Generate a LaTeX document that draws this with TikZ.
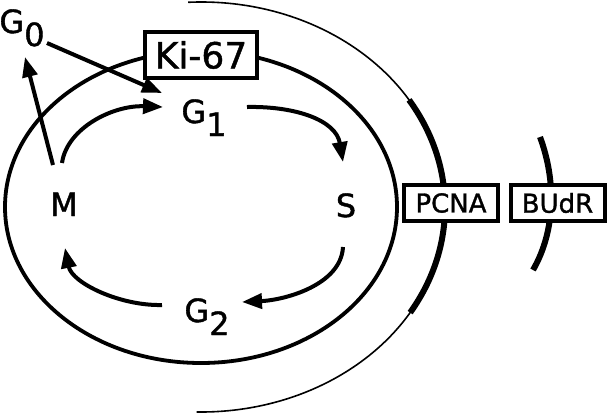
\documentclass[tikz,border=0pt]{standalone}
\usepackage{fontspec}
\setmainfont{DejaVu Sans}[FakeBold=1.2]
\usetikzlibrary{arrows.meta,calc}

\newcommand{\subidx}[1]{\lower6.5pt\hbox{#1}}

\begin{document}
\begin{tikzpicture}[x=0.5pt, y=-0.5pt,
    phase/.style={font=\fontsize{16}{16}\selectfont, inner sep=0pt, anchor=base},
    marker/.style={draw, line width=2pt, fill=white, inner sep=0pt,
        minimum width=47pt, minimum height=18pt, font=\fontsize{13}{13}\selectfont},
    flow/.style={line width=2pt, -{Triangle[length=10pt,width=7.5pt]}}]
    \useasboundingbox (0,0) rectangle (611,414);
    % cell cycle
    \draw[line width=1.9pt] (201,207) ellipse [x radius=196, y radius=156];
    \node[marker, minimum width=56pt, minimum height=23pt,
        font=\fontsize{18}{18}\selectfont] (ki67) at (201,55) {Ki-67};
    % phases
    \node[phase] (G0) at (22,33) {G\subidx{0}};
    \node[phase] (G1) at (204,123) {G\subidx{1}};
    \node[phase] (M) at (64,216) {M};
    \node[phase] (S) at (346,217) {S};
    \node[phase] (G2) at (207,322) {G\subidx{2}};
    \draw[flow] ($(M.base)+(-2,-53)$) .. controls +(5,-35) and +(-50,-2) .. ($(G1.base)+(-41,-16)$);
    \draw[flow] ($(G1.base)+(43,-16)$) .. controls +(48,-1) and +(-7,-42) .. ($(S.base)+(-3,-55)$);
    \draw[flow] ($(S.base)+(-3,30)$) .. controls +(-2,38) and +(43,-2) .. ($(G2.base)+(35,-20)$);
    \draw[flow] ($(G2.base)+(-45,-17)$) .. controls +(-42,1) and +(7,35) .. ($(M.base)+(1,32)$);
    \draw[flow] ($(M.base)+(-11,-51)$) -- ($(G0.base)+(3,24)$);
    \draw[flow] ($(G0.base)+(25,10)$) -- ($(G1.base)+(-42,-30)$);
    % markers
    \draw[line width=0.8pt] (201,207) ++(-93:244 and 205)
        arc[start angle=-93, end angle=91, x radius=244, y radius=205];
    \draw[line width=3pt] (201,207) ++(-31.5:244 and 205)
        arc[start angle=-31.5, end angle=31, x radius=244, y radius=205];
    \draw[line width=3pt] (540,137) .. controls (556,180) and (556,230) .. (533,270);
    \node[marker] (pcna) at (451,203) {PCNA};
    \node[marker] (budr) at (557.5,203) {BUdR};
\end{tikzpicture}
\end{document}
